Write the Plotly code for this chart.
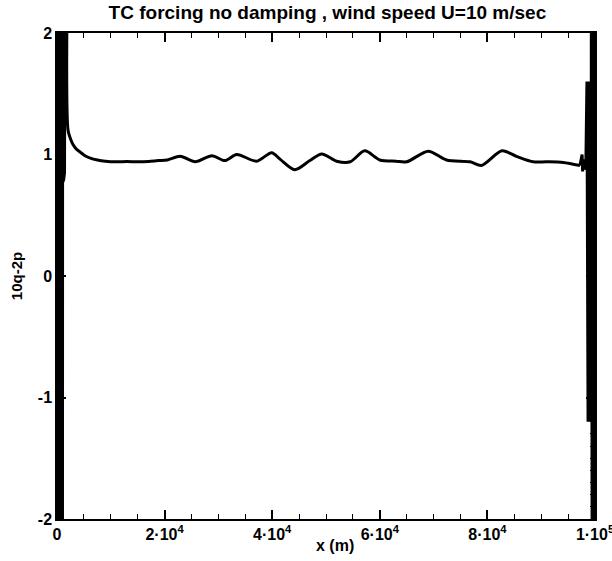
import plotly.graph_objects as go

# ---- data ----
# left boundary: strong oscillation (x in m, value)
left_x = [0, 35, 70, 105, 140, 175, 210, 245, 280, 315, 350, 385, 420, 455, 490,
          525, 560, 595, 630, 665, 700, 735, 770, 805, 840, 875, 910, 945, 980, 1015, 1050,
          1080, 1130, 1180, 1260, 1400, 1480, 1700, 1950]
left_y = [3, -3, 3, -3, 3, -3, 3, -3, 3, -3, 3, -3, 3, -3, 3,
          -3, 3, -3, 3, -3, 3, -3, 3, -3, 3, -3, 3, -3, 3, -3, 3,
          0.77, 1.83, 0.78, 0.80, 0.85, 2.6, 2.6, 2.6]

# decay after the spike and the gently undulating interior level
mid_x = [1950, 2050, 2500, 3000, 3500, 4300, 5200, 6200, 7500, 9000,
         11000, 13000, 15000, 17000, 18800, 20500, 22900, 25700, 28800, 31200, 33400,
         37100, 39900, 41500, 44200, 47000, 49200, 52000, 54500, 57200, 60000, 63000,
         65000, 69000, 72400, 76800, 78900, 82700, 85400, 88500, 91000, 94100, 97200]
mid_y = [2.6, 1.20, 1.13, 1.08, 1.05, 1.02, 0.99, 0.97, 0.955, 0.945,
         0.94, 0.942, 0.94, 0.943, 0.95, 0.955, 0.985, 0.94, 0.99, 0.95, 1.0,
         0.945, 1.015, 0.96, 0.875, 0.95, 1.005, 0.945, 0.94, 1.03, 0.955, 0.945,
         0.94, 1.027, 0.955, 0.94, 0.91, 1.03, 0.985, 0.94, 0.94, 0.935, 0.91]

# right boundary: small spike then strong oscillation
right_x = [97200, 97600, 97700, 97800, 98000, 98300, 98500, 98570, 98640, 98710, 98780, 98850,
           98920, 98990, 99060, 99130, 99200, 99270, 99330, 99380, 99430, 99480, 99530,
           99580, 99630, 99680, 99730, 99780, 99830, 99880, 99930, 99970, 100000]
right_y = [0.91, 1.0, 0.86, 0.96, 0.88, 0.90, 1.6, -1.2, 1.6, -1.2, 1.6, -1.2,
           1.6, -1.2, 1.6, -1.2, 1.6, -1.2, 3, -3, 3, -3, 3,
           -3, 3, -3, 3, -3, 3, -3, 3, -3, 3]

x_range = [0, 100000]
y_range = [-2, 2]
x_tickvals = [0, 20000, 40000, 60000, 80000, 100000]
x_ticktext = ["<b>0</b>", "<b>2·10<sup>4</sup></b>", "<b>4·10<sup>4</sup></b>",
              "<b>6·10<sup>4</sup></b>", "<b>8·10<sup>4</sup></b>", "<b>1·10<sup>5</sup></b>"]
x_minor_step = 5000
y_tickvals = [-2, -1, 0, 1, 2]
y_ticktext = ["<b>-2</b>", "<b>-1</b>", "<b>0</b>", "<b>1</b>", "<b>2</b>"]
y_minor_step = 0.1

FONT = "Liberation Sans, Arial, sans-serif"
LINE = dict(color="black", width=3)

fig = go.Figure()
fig.add_trace(go.Scatter(x=left_x, y=left_y, mode="lines", line=LINE, showlegend=False))
fig.add_trace(go.Scatter(x=mid_x, y=mid_y, mode="lines",
                         line=dict(color="black", width=3, shape="spline", smoothing=0.8),
                         showlegend=False))
fig.add_trace(go.Scatter(x=right_x, y=right_y, mode="lines", line=LINE, showlegend=False))

fig.update_layout(
    width=612, height=561,
    margin=dict(l=57, r=17, t=33, b=42, autoexpand=False),
    paper_bgcolor="white", plot_bgcolor="white",
    font=dict(family=FONT, color="black", size=15),
    title=dict(text="<b>TC forcing no damping , wind speed U=10 m/sec</b>",
               x=0.535, xanchor="center", y=0.978, yanchor="middle",
               font=dict(family=FONT, size=19, color="black")),
    xaxis=dict(
        range=x_range, showgrid=False, zeroline=False, automargin=False,
        showline=True, linecolor="black", linewidth=1.5, mirror="allticks",
        tickmode="array", tickvals=x_tickvals, ticktext=x_ticktext,
        ticks="inside", ticklen=9, tickwidth=1.5, tickcolor="black",
        ticklabeloverflow="allow",
        minor=dict(ticks="inside", dtick=x_minor_step, tick0=0, ticklen=5,
                   tickwidth=1.2, tickcolor="black"),
        tickfont=dict(family=FONT, size=16, color="black"),
    ),
    yaxis=dict(
        range=y_range, showgrid=False, zeroline=False, automargin=False,
        showline=True, linecolor="black", linewidth=1.5, mirror="allticks",
        tickmode="array", tickvals=y_tickvals, ticktext=y_ticktext,
        ticks="inside", ticklen=9, tickwidth=1.5, tickcolor="black",
        minor=dict(ticks="inside", dtick=y_minor_step, tick0=0, ticklen=5,
                   tickwidth=1.2, tickcolor="black"),
        tickfont=dict(family=FONT, size=16, color="black"),
        title=dict(text="<b>10q-2p</b>", standoff=12,
                   font=dict(family=FONT, size=15, color="black")),
    ),
    annotations=[dict(text="<b>x (m)</b>", xref="paper", yref="paper", x=0.517, y=-0.055,
                      xanchor="center", yanchor="middle", showarrow=False,
                      font=dict(family=FONT, size=16, color="black"))],
)

fig.write_html("out.html")
